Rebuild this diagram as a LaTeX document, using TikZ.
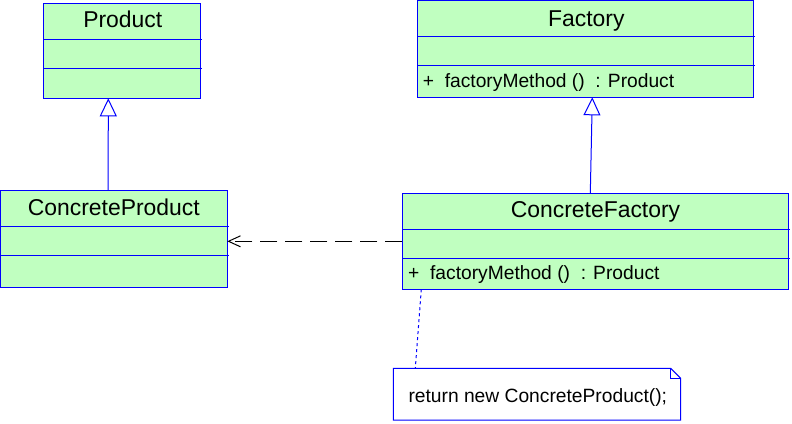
\documentclass[tikz,border=0pt]{standalone}
\usepackage{fontspec}
\setmainfont{Liberation Sans}
\usetikzlibrary{arrows.meta}
\definecolor{umlfill}{RGB}{192,255,192}
\definecolor{umlblue}{RGB}{0,0,255}
\tikzset{
  classbox/.style={draw=umlblue, fill=umlfill, line width=1bp, anchor=north west, inner sep=0pt, outer sep=0pt},
  divider/.style={draw=umlblue, line width=1bp},
  titletext/.style={font=\fontsize{23}{27}\selectfont, inner sep=0pt, anchor=base},
  methtext/.style={font=\fontsize{19.3}{23}\selectfont, inner sep=0pt, anchor=base west},
  inherit/.style={draw=umlblue, line width=1bp, -{Triangle[open, length=18bp, width=17bp, fill=white]}},
  depend/.style={draw=black, line width=1bp, dash pattern=on 17bp off 8bp, -{Straight Barb[length=12bp, width=11bp]}},
  notelink/.style={draw=umlblue, line width=1bp, dash pattern=on 3bp off 3bp},
  noteshape/.style={draw=umlblue, fill=white, line width=1bp, line join=miter},
  noteanchor/.style={draw=none, inner sep=0pt, outer sep=0pt, anchor=north west}
}
\begin{document}
\begin{tikzpicture}[x=1bp, y=-1bp]
\useasboundingbox (0,0) rectangle (792,423);

% Product
\node[classbox, minimum width=157bp, minimum height=95bp] (product) at (43.3,3.3) {};
\draw[divider] (43.3,39.3) -- (201.7,39.3);
\draw[divider] (43.3,68.3) -- (201.7,68.3);
\node[titletext] (producttitle) at (122.8,27.7) {Product};

% Factory
\node[classbox, minimum width=336bp, minimum height=96.6bp] (factory) at (417.3,0.7) {};
\draw[divider] (417.3,36) -- (754.7,36);
\draw[divider] (417.3,65.3) -- (754.7,65.3);
\node[titletext] (factorytitle) at (586.3,26) {Factory};
\node[methtext] (factorymeth) at (422.7,87.3) {+\ \ factoryMethod ()\ \ : Product};

% ConcreteProduct
\node[classbox, minimum width=227.3bp, minimum height=97bp] (cproduct) at (0,190.3) {};
\draw[divider] (0,226) -- (228.7,226);
\draw[divider] (0,255.3) -- (228.7,255.3);
\node[titletext] (cproducttitle) at (113.8,215.7) {ConcreteProduct};

% ConcreteFactory
\node[classbox, minimum width=386bp, minimum height=96bp] (cfactory) at (402.3,193.3) {};
\draw[divider] (402.3,229.3) -- (789.7,229.3);
\draw[divider] (402.3,258.7) -- (789.7,258.7);
\node[titletext] (cfactorytitle) at (595.5,217.3) {ConcreteFactory};
\node[methtext] (cfactorymeth) at (408,279.3) {+\ \ factoryMethod ()\ \ : Product};

% Note
\node[noteanchor, minimum width=287.4bp, minimum height=51.7bp] (note) at (393.3,368.3) {};
\draw[noteshape] (note.north west) -- ([xshift=-10bp]note.north east) -- ([yshift=-10bp]note.north east) -- (note.south east) -- (note.south west) -- cycle;
\draw[divider] ([xshift=-10bp]note.north east) -- ([xshift=-10bp,yshift=-10bp]note.north east) -- ([yshift=-10bp]note.north east);
\node[methtext] (notetext) at (408.3,402.7) {return new ConcreteProduct();};

% Connectors
\draw[inherit] ([xshift=-5.5bp]cproduct.north) -- ([xshift=-13.5bp]product.south);
\draw[inherit] ([xshift=-5bp]cfactory.north) -- ([xshift=7bp]factory.south);
\draw[depend] (cfactory.west) -- (cproduct.east |- cfactory.west);
\draw[notelink] ([xshift=19bp]cfactory.south west) -- ([xshift=22bp]note.north west);
\end{tikzpicture}
\end{document}
